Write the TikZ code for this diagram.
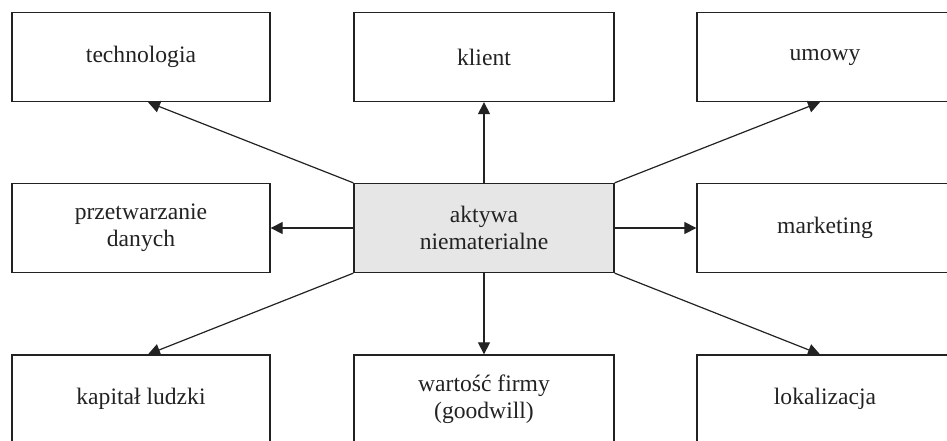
\documentclass[tikz,border=0pt]{standalone}
\usepackage{fontspec}
\setmainfont{Liberation Serif}
\usetikzlibrary{arrows.meta}
\definecolor{boxgray}{HTML}{E6E6E6}
\definecolor{ink}{HTML}{222222}
\begin{document}
\begin{tikzpicture}[x=1pt,y=-1pt,
  boxnode/.style={draw=ink, line width=1.3pt, minimum width=258pt, minimum height=89pt,
    inner sep=0pt, align=center, text=ink,
    font=\fontsize{23.6pt}{27pt}\selectfont},
  conn/.style={draw=ink, line width=1.2pt, -{Triangle[length=12pt,width=12pt]}}]
\useasboundingbox (0,0) rectangle (947,440);
\clip (0,0) rectangle (947,440);
\node[boxnode] (tech) at (141,57) {technologia};
\node[boxnode, minimum width=260pt] (klient) at (484,57) {klient};
\node[boxnode, minimum width=256pt] (umowy) at (825,57) {umowy};
\node[boxnode] (przet) at (141,228) {przetwarzanie\\danych};
\node[boxnode, minimum width=260pt, fill=boxgray] (c) at (484,228) {aktywa\\niematerialne};
\node[boxnode, minimum width=256pt] (mark) at (825,228) {marketing};
\node[boxnode, minimum height=88pt] (kap) at (141,399) {kapitał ludzki};
\node[boxnode, minimum width=260pt, minimum height=88pt] (wart) at (484,399) {wartość firmy\\(goodwill)};
\node[boxnode, minimum width=256pt, minimum height=88pt] (lok) at (825,399) {lokalizacja};
\draw[conn] (c.north west) -- ([xshift=7pt]tech.south);
\draw[conn] (c.north) -- (klient.south);
\draw[conn] (c.north east) -- ([xshift=-5pt]umowy.south);
\draw[conn] (c.west) -- (przet.east);
\draw[conn] (c.east) -- (mark.west);
\draw[conn] (c.south west) -- ([xshift=7pt]kap.north);
\draw[conn] (c.south) -- (wart.north);
\draw[conn] (c.south east) -- ([xshift=-5pt]lok.north);
\end{tikzpicture}
\end{document}
